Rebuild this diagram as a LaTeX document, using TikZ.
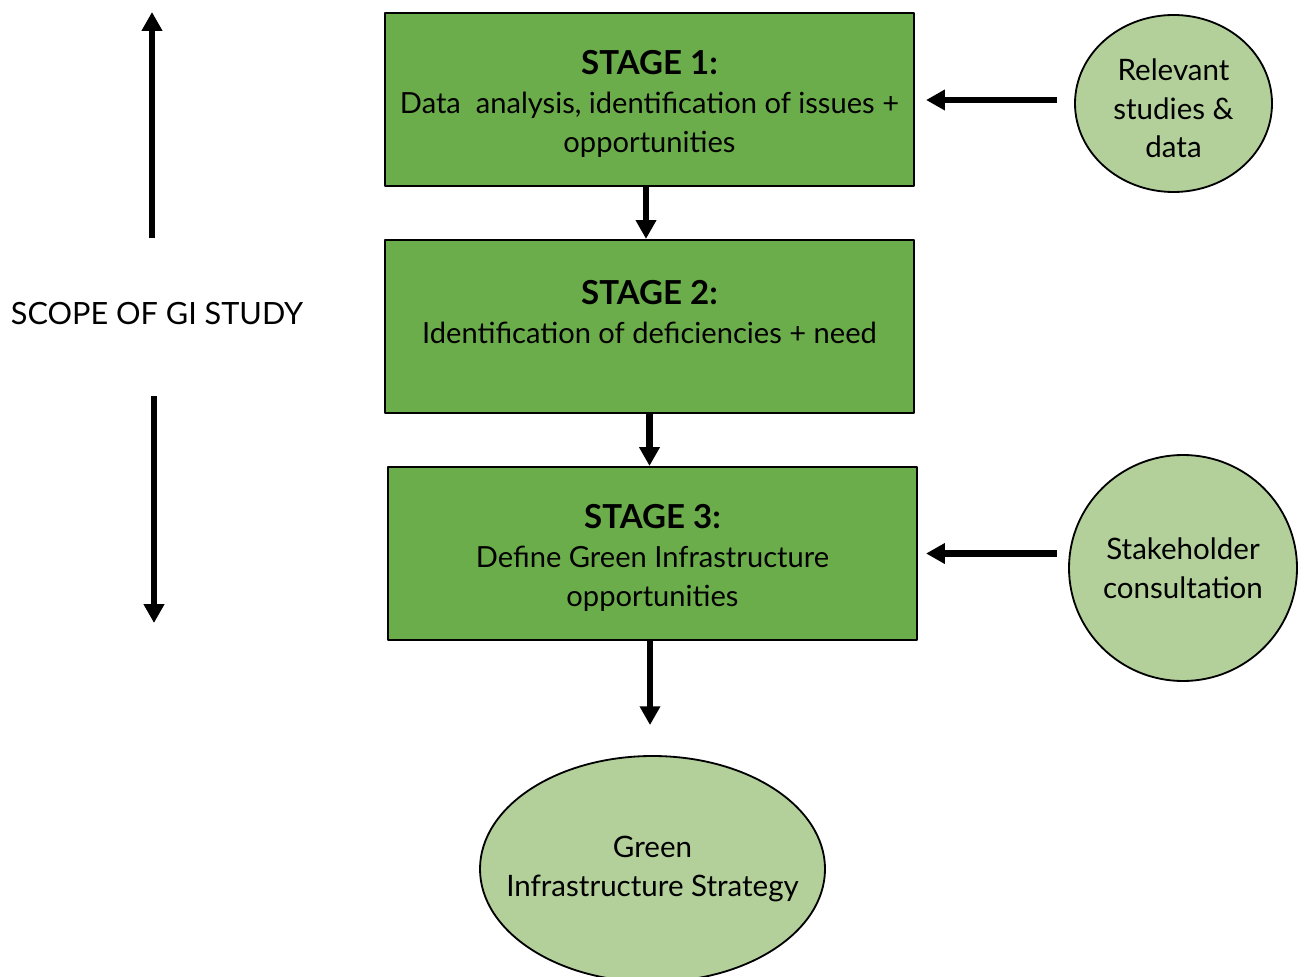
\documentclass[tikz,border=0pt]{standalone}
\usepackage{fontspec}
\setmainfont{Lato}
\usetikzlibrary{arrows.meta, positioning, shapes.geometric}
\definecolor{gistage}{HTML}{6CAD4B}
\definecolor{gisource}{HTML}{B3D09B}
\tikzset{
  every picture/.style={line join=round},
  stagebox/.style={rectangle, draw=black, fill=gistage, line width=1.5pt,
    minimum width=529*0.025cm, minimum height=173*0.025cm, align=center,
    font=\fontsize{20.7}{27.7}\selectfont},
  source/.style={ellipse, draw=black, fill=gisource, line width=1.3pt,
    inner ysep=0pt, inner xsep=-0.3cm, align=center, font=\fontsize{21}{27.5}\selectfont},
  flow/.style={-{Triangle[length=4.7mm, width=4.9mm]}, draw=black, line width=4.4pt},
}
\newcommand{\stagehead}[1]{{\fontsize{23.5}{27.7}\selectfont\bfseries\rule{0pt}{24pt}#1}}

\begin{document}
\begin{tikzpicture}[x=0.025cm, y=-0.025cm]
\useasboundingbox (0,0) rectangle (1306,977);

% ---- stages
\node[stagebox] (stageone) at (649.5, 99.5)
  {\stagehead{STAGE 1:}\\Data\ \ analysis, identification of issues +\\opportunities};
\node[stagebox] (stagetwo) at (649.5, 326.5)
  {\stagehead{STAGE 2:}\\Identification of deficiencies + need\\\mbox{}};
\node[stagebox] (stagethree) at (652.5, 553.5)
  {\stagehead{STAGE 3:}\\Define Green Infrastructure\\opportunities};

% ---- inputs and result
\node[source, minimum width=197*0.025cm, minimum height=177*0.025cm] (studies)
  at (1173.5, 103.5) {\rule{0pt}{22.5pt}Relevant\\studies \&\\data};
\node[source, minimum width=228*0.025cm, minimum height=226*0.025cm] (consult)
  at (1183, 568) {Stakeholder\\consultation};
\node[source, inner xsep=-0.7cm, minimum width=345*0.025cm, minimum height=226*0.025cm] (strategy)
  at (652.5, 869) {Green\\Infrastructure Strategy};

\draw[flow] ([xshift=-3.5*0.025cm]stageone.south) -- ([xshift=-3.5*0.025cm]stagetwo.north);
\draw[flow] (stagetwo.south) -- (stagetwo.south |- stagethree.north);
\draw[flow, shorten >=30*0.025cm] ([xshift=-2.5*0.025cm]stagethree.south) -- ([xshift=-2.5*0.025cm]strategy.north);
\draw[flow, shorten <=17*0.025cm, shorten >=11*0.025cm] ([yshift=3.5*0.025cm]studies.west)
  -- ([yshift=3.5*0.025cm]studies.west -| stageone.east);
\draw[flow, shorten <=11*0.025cm, shorten >=8*0.025cm] (consult.west |- stagethree.east) -- (stagethree.east);

% ---- scope of the study
\node[font=\fontsize{21.8}{24}\selectfont] (scope) at (157, 314) {SCOPE OF GI STUDY};
\coordinate (uptail) at (152, 238);
\coordinate (uphead) at (152, 12);
\coordinate (downtail) at (154, 396);
\coordinate (downhead) at (154, 623);
\draw[flow] (uptail) -- (uphead);
\draw[flow] (downtail) -- (downhead);

\end{tikzpicture}
\end{document}
